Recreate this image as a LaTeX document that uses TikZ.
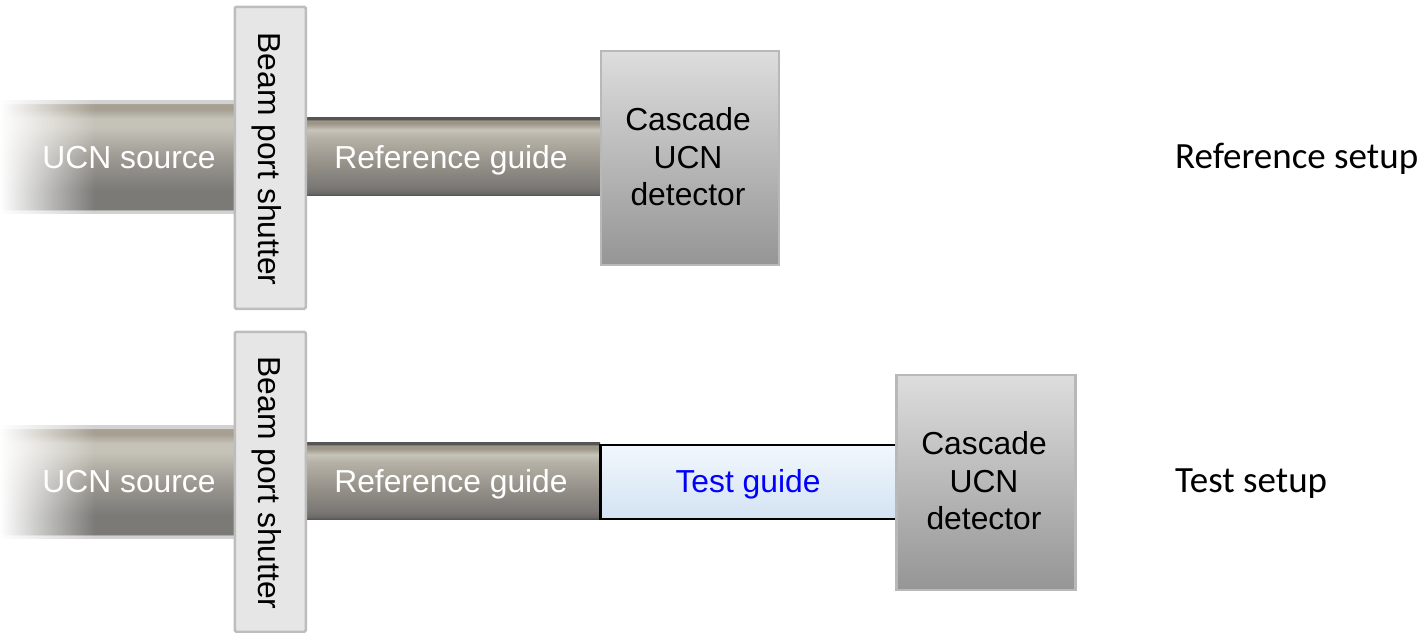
\documentclass[tikz,border=0pt]{standalone}
\usepackage{fontspec}
\setmainfont{Liberation Sans}
\newfontfamily\calib{Carlito}
\usetikzlibrary{fadings}
\definecolor{mD}{HTML}{555555}
\definecolor{mE}{HTML}{6B6A67}
\definecolor{mB}{HTML}{7A7875}
\definecolor{mC}{HTML}{959189}
\definecolor{mLt}{HTML}{B5B1A6}
\definecolor{mL}{HTML}{C7C4BA}
\definecolor{mT}{HTML}{9D9587}
\definecolor{sEdge}{HTML}{D2D2D2}
\definecolor{sB}{HTML}{7B7A77}
\definecolor{sC}{HTML}{9D9A93}
\definecolor{sL}{HTML}{C5C2B8}
\definecolor{sT}{HTML}{A69F92}
\definecolor{shutFill}{HTML}{E6E6E6}
\definecolor{shutLine}{HTML}{BDBDBD}
\definecolor{detTop}{HTML}{DDDDDD}
\definecolor{detBot}{HTML}{959595}
\definecolor{detLine}{HTML}{B8B8B8}
\definecolor{tgTop}{HTML}{F2F7FC}
\definecolor{tgBot}{HTML}{D3E3F3}
\pgfdeclareverticalshading{refmetal}{100bp}{color(0bp)=(mD); color(25bp)=(mD); color(26.5bp)=(mE); color(30bp)=(mB); color(45bp)=(mC); color(62bp)=(mLt); color(67bp)=(mL); color(71bp)=(mT); color(73bp)=(mT); color(73.5bp)=(mD); color(75bp)=(mD); color(100bp)=(mD)}
\pgfdeclareverticalshading{srcmetal}{100bp}{color(0bp)=(sEdge); color(26.3bp)=(sEdge); color(26.6bp)=(sB); color(35bp)=(sB); color(50bp)=(sC); color(63bp)=(sL); color(67bp)=(sL); color(71bp)=(sT); color(73.3bp)=(sT); color(73.6bp)=(sEdge); color(100bp)=(sEdge)}
\tikzset{
  lbl/.style={font=\fontsize{31.8}{37.5}\selectfont, inner sep=0pt, align=center},
  srcbox/.style={rectangle, inner sep=0pt, anchor=north west, shading=srcmetal},
  guidebox/.style={rectangle, inner sep=0pt, anchor=north west, shading=refmetal},
  testbox/.style={rectangle, inner sep=0pt, anchor=north west, top color=tgTop, bottom color=tgBot, draw=black, line width=2.5pt},
  shutbox/.style={rectangle, inner sep=0pt, anchor=north west, fill=shutFill, draw=shutLine, line width=2.5pt, rounded corners=1.5pt},
  detbox/.style={rectangle, inner sep=0pt, anchor=north west, top color=detTop, bottom color=detBot, draw=detLine, line width=2.5pt},
  setuplbl/.style={font=\calib\fontsize{37}{44}\selectfont, inner sep=0pt, anchor=base west}
}
\begin{document}
\begin{tikzpicture}[x=1pt,y=-1pt]
\useasboundingbox (0,0) rectangle (1423,632);
% ---------------- Reference setup ----------------
\node[srcbox, minimum width=240pt, minimum height=113pt] (src1) at (0,100) {};
\fill[white, path fading=east] (0,98) rectangle (95,215);
\node[lbl, text=white, anchor=base] (src1t) at (129,168) {UCN source};
\node[guidebox, minimum width=300pt, minimum height=78pt] (ref1) at (300,117) {};
\node[lbl, text=white, anchor=base] (ref1t) at (451,168) {Reference guide};
\node[shutbox, minimum width=71pt, minimum height=302pt] (sh1) at (233.5,5.5) {};
\node[lbl, rotate=-90, anchor=base] (sh1t) at (258,159) {Beam port shutter};
\node[detbox, minimum width=178pt, minimum height=214pt] (det1) at (599.5,49.5) {};
\node[lbl] (det1t) at (688,157) {Cascade\\UCN\\detector};
\node[setuplbl] (setup1) at (1175,168) {Reference setup};
% ---------------- Test setup ----------------
\node[srcbox, minimum width=240pt, minimum height=113pt] (src2) at (0,425) {};
\fill[white, path fading=east] (0,423) rectangle (95,540);
\node[lbl, text=white, anchor=base] (src2t) at (129,492) {UCN source};
\node[guidebox, minimum width=300pt, minimum height=77pt] (ref2) at (300,442) {};
\node[lbl, text=white, anchor=base] (ref2t) at (451,492) {Reference guide};
\node[testbox, minimum width=298pt, minimum height=74pt] (tg) at (599,443.5) {};
\node[lbl, text={rgb,255:red,0;green,0;blue,255}, anchor=base] (tgt) at (748,492) {Test guide};
\node[shutbox, minimum width=71pt, minimum height=300pt] (sh2) at (233.5,330.5) {};
\node[lbl, rotate=-90, anchor=base] (sh2t) at (258,483) {Beam port shutter};
\node[detbox, minimum width=179pt, minimum height=215pt] (det2) at (895,373.5) {};
\node[lbl] (det2t) at (984,481) {Cascade\\UCN\\detector};
\node[setuplbl] (setup2) at (1175,492) {Test setup};
\end{tikzpicture}
\end{document}
